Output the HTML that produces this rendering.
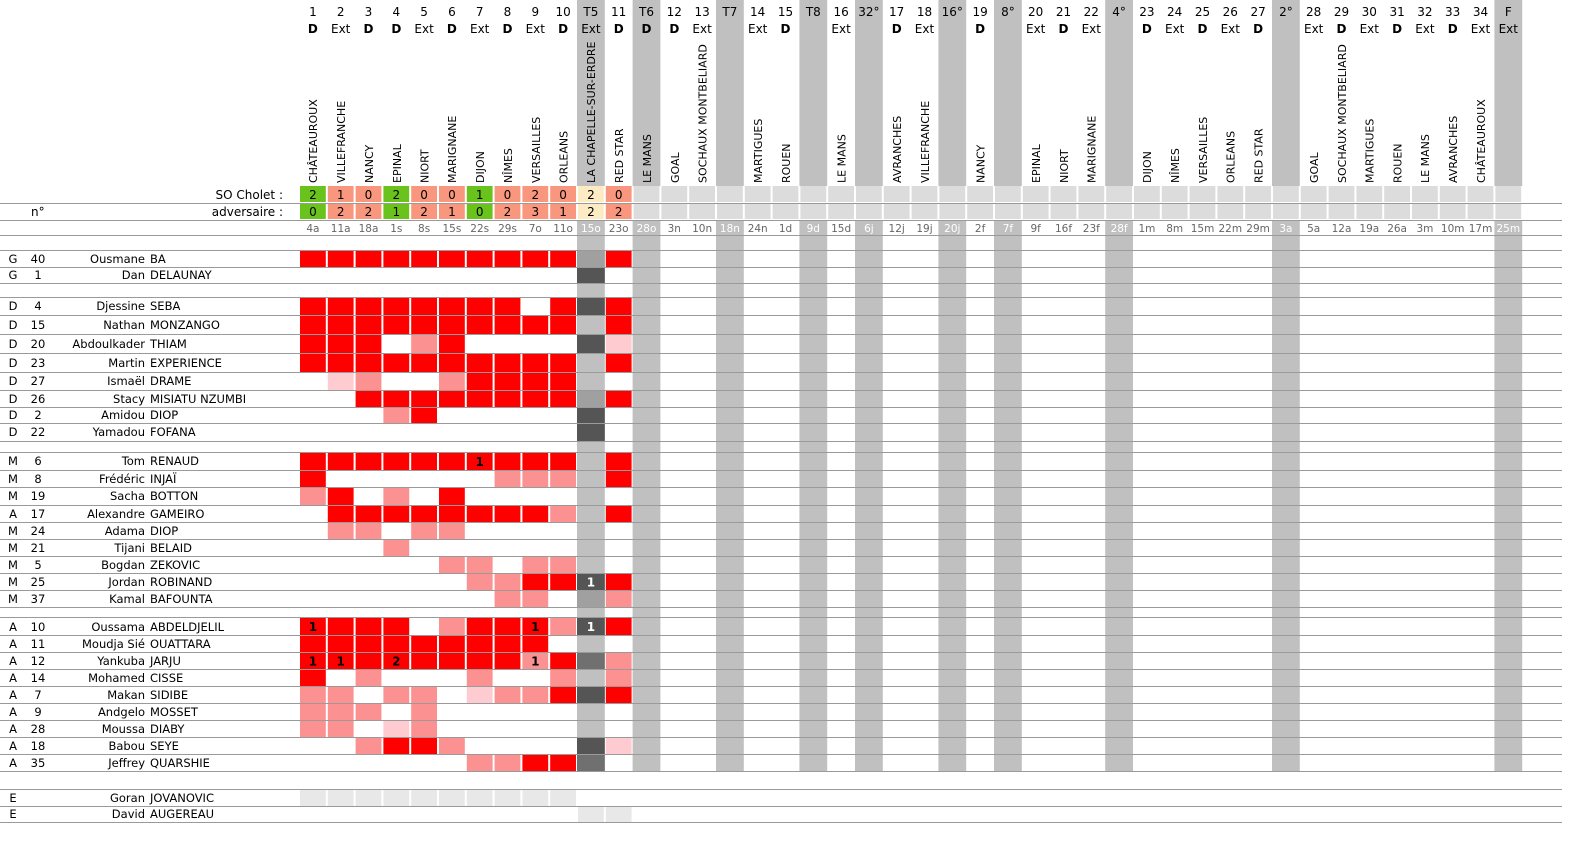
<!DOCTYPE html>
<html><head><meta charset="utf-8">
<style>
html,body{margin:0;padding:0;background:#fff;}
svg{display:block;font-family:"DejaVu Sans","Liberation Sans",sans-serif;}
.r{fill:#fe0000}.p{fill:#fb9191}.l{fill:#fdcbd0}.g{fill:#dcdcdc}.e{fill:#e8e8e8}
.w{fill:#6ac31c}.s{fill:#f8977e}.y{fill:#fdebc4}
.d1{fill:#a0a0a0}.d2{fill:#555}.d3{fill:#707070}
.gc{fill:#c0c0c0}
.nm{font-size:11.5px;fill:#000}
.hd{font-size:12px;fill:#000;text-anchor:middle}
.hb{font-size:12px;fill:#000;text-anchor:middle;font-weight:bold}
.tm{font-size:11px;fill:#000}
.dt{font-size:10.5px;fill:#666;text-anchor:middle}
.dw{font-size:10.5px;fill:#fff;text-anchor:middle}
.sc{font-size:12px;fill:#000;text-anchor:middle}
.gl{font-size:12px;font-weight:bold;fill:#000;text-anchor:middle}
.glw{font-size:12px;font-weight:bold;fill:#fff;text-anchor:middle}
.ln{stroke:#9a9a9a;stroke-width:1}
</style></head><body>
<svg width="1577" height="851" viewBox="0 0 1577 851" xmlns="http://www.w3.org/2000/svg">
<!-- gray columns -->
<g class="gc">
<rect x="577" y="0" width="27.8" height="771"/>
<rect x="632.6" y="0" width="27.8" height="771"/>
<rect x="716" y="0" width="27.8" height="771"/>
<rect x="799.4" y="0" width="27.8" height="771"/>
<rect x="855" y="0" width="27.8" height="771"/>
<rect x="938.4" y="0" width="27.8" height="771"/>
<rect x="994" y="0" width="27.8" height="771"/>
<rect x="1105.2" y="0" width="27.8" height="771"/>
<rect x="1272" y="0" width="27.8" height="771"/>
<rect x="1494.4" y="0" width="27.8" height="771"/>
</g>
<!-- header numbers -->
<g class="hd">
<text x="312.9" y="16">1</text><text x="340.7" y="16">2</text><text x="368.5" y="16">3</text><text x="396.3" y="16">4</text><text x="424.1" y="16">5</text><text x="451.9" y="16">6</text><text x="479.7" y="16">7</text><text x="507.5" y="16">8</text><text x="535.3" y="16">9</text><text x="563.1" y="16">10</text><text x="590.9" y="16">T5</text><text x="618.7" y="16">11</text><text x="646.5" y="16">T6</text><text x="674.3" y="16">12</text><text x="702.1" y="16">13</text><text x="729.9" y="16">T7</text><text x="757.7" y="16">14</text><text x="785.5" y="16">15</text><text x="813.3" y="16">T8</text><text x="841.1" y="16">16</text><text x="868.9" y="16">32°</text><text x="896.7" y="16">17</text><text x="924.5" y="16">18</text><text x="952.3" y="16">16°</text><text x="980.1" y="16">19</text><text x="1007.9" y="16">8°</text><text x="1035.7" y="16">20</text><text x="1063.5" y="16">21</text><text x="1091.3" y="16">22</text><text x="1119.1" y="16">4°</text><text x="1146.9" y="16">23</text><text x="1174.7" y="16">24</text><text x="1202.5" y="16">25</text><text x="1230.3" y="16">26</text><text x="1258.1" y="16">27</text><text x="1285.9" y="16">2°</text><text x="1313.7" y="16">28</text><text x="1341.5" y="16">29</text><text x="1369.3" y="16">30</text><text x="1397.1" y="16">31</text><text x="1424.9" y="16">32</text><text x="1452.7" y="16">33</text><text x="1480.5" y="16">34</text><text x="1508.3" y="16">F</text>
</g>
<g>
<text class="hb" x="312.9" y="33">D</text><text class="hd" x="340.7" y="33">Ext</text><text class="hb" x="368.5" y="33">D</text><text class="hb" x="396.3" y="33">D</text><text class="hd" x="424.1" y="33">Ext</text><text class="hb" x="451.9" y="33">D</text><text class="hd" x="479.7" y="33">Ext</text><text class="hb" x="507.5" y="33">D</text><text class="hd" x="535.3" y="33">Ext</text><text class="hb" x="563.1" y="33">D</text><text class="hd" x="590.9" y="33">Ext</text><text class="hb" x="618.7" y="33">D</text><text class="hb" x="646.5" y="33">D</text><text class="hb" x="674.3" y="33">D</text><text class="hd" x="702.1" y="33">Ext</text><text class="hd" x="757.7" y="33">Ext</text><text class="hb" x="785.5" y="33">D</text><text class="hd" x="841.1" y="33">Ext</text><text class="hb" x="896.7" y="33">D</text><text class="hd" x="924.5" y="33">Ext</text><text class="hb" x="980.1" y="33">D</text><text class="hd" x="1035.7" y="33">Ext</text><text class="hb" x="1063.5" y="33">D</text><text class="hd" x="1091.3" y="33">Ext</text><text class="hb" x="1146.9" y="33">D</text><text class="hd" x="1174.7" y="33">Ext</text><text class="hb" x="1202.5" y="33">D</text><text class="hd" x="1230.3" y="33">Ext</text><text class="hb" x="1258.1" y="33">D</text><text class="hd" x="1313.7" y="33">Ext</text><text class="hb" x="1341.5" y="33">D</text><text class="hd" x="1369.3" y="33">Ext</text><text class="hb" x="1397.1" y="33">D</text><text class="hd" x="1424.9" y="33">Ext</text><text class="hb" x="1452.7" y="33">D</text><text class="hd" x="1480.5" y="33">Ext</text><text class="hd" x="1508.3" y="33">Ext</text>
</g>
<!-- team names rotated -->
<g class="tm">
<text transform="translate(317,183) rotate(-90)">CHÂTEAUROUX</text>
<text transform="translate(345,183) rotate(-90)">VILLEFRANCHE</text>
<text transform="translate(373,183) rotate(-90)">NANCY</text>
<text transform="translate(401,183) rotate(-90)">EPINAL</text>
<text transform="translate(428.5,183) rotate(-90)">NIORT</text>
<text transform="translate(456,183) rotate(-90)">MARIGNANE</text>
<text transform="translate(484,183) rotate(-90)">DIJON</text>
<text transform="translate(512,183) rotate(-90)">NÎMES</text>
<text transform="translate(540,183) rotate(-90)">VERSAILLES</text>
<text transform="translate(567.5,183) rotate(-90)">ORLEANS</text>
<text transform="translate(595,183) rotate(-90)">LA CHAPELLE-SUR-ERDRE</text>
<text transform="translate(623,183) rotate(-90)">RED STAR</text>
<text transform="translate(651,183) rotate(-90)">LE MANS</text>
<text transform="translate(679,183) rotate(-90)">GOAL</text>
<text transform="translate(706.5,183) rotate(-90)">SOCHAUX MONTBELIARD</text>
<text transform="translate(762,183) rotate(-90)">MARTIGUES</text>
<text transform="translate(790,183) rotate(-90)">ROUEN</text>
<text transform="translate(845.5,183) rotate(-90)">LE MANS</text>
<text transform="translate(901,183) rotate(-90)">AVRANCHES</text>
<text transform="translate(929,183) rotate(-90)">VILLEFRANCHE</text>
<text transform="translate(984.5,183) rotate(-90)">NANCY</text>
<text transform="translate(1040,183) rotate(-90)">EPINAL</text>
<text transform="translate(1068,183) rotate(-90)">NIORT</text>
<text transform="translate(1095.5,183) rotate(-90)">MARIGNANE</text>
<text transform="translate(1151,183) rotate(-90)">DIJON</text>
<text transform="translate(1179,183) rotate(-90)">NÎMES</text>
<text transform="translate(1207,183) rotate(-90)">VERSAILLES</text>
<text transform="translate(1234.5,183) rotate(-90)">ORLEANS</text>
<text transform="translate(1262.5,183) rotate(-90)">RED STAR</text>
<text transform="translate(1318,183) rotate(-90)">GOAL</text>
<text transform="translate(1346,183) rotate(-90)">SOCHAUX MONTBELIARD</text>
<text transform="translate(1373.5,183) rotate(-90)">MARTIGUES</text>
<text transform="translate(1401.5,183) rotate(-90)">ROUEN</text>
<text transform="translate(1429,183) rotate(-90)">LE MANS</text>
<text transform="translate(1457,183) rotate(-90)">AVRANCHES</text>
<text transform="translate(1485,183) rotate(-90)">CHÂTEAUROUX</text>
</g>
<!-- score rows background -->
<rect x="299" y="186" width="1224" height="34" fill="#fff"/>
<g class="g">
<rect x="632.6" y="186" width="889.6" height="16" fill="#fff"/>
</g>
<g id="sc">
<!-- row 1 -->
<rect class="w" x="300" y="186" width="25.8" height="16"/><rect class="s" x="327.8" y="186" width="25.8" height="16"/><rect class="s" x="355.6" y="186" width="25.8" height="16"/><rect class="w" x="383.4" y="186" width="25.8" height="16"/><rect class="s" x="411.2" y="186" width="25.8" height="16"/><rect class="s" x="439" y="186" width="25.8" height="16"/><rect class="w" x="466.8" y="186" width="25.8" height="16"/><rect class="s" x="494.6" y="186" width="25.8" height="16"/><rect class="s" x="522.4" y="186" width="25.8" height="16"/><rect class="s" x="550.2" y="186" width="25.8" height="16"/><rect class="y" x="578" y="186" width="25.8" height="16"/><rect class="s" x="605.8" y="186" width="25.8" height="16"/>
<rect class="w" x="300" y="204" width="25.8" height="15"/><rect class="s" x="327.8" y="204" width="25.8" height="15"/><rect class="s" x="355.6" y="204" width="25.8" height="15"/><rect class="w" x="383.4" y="204" width="25.8" height="15"/><rect class="s" x="411.2" y="204" width="25.8" height="15"/><rect class="s" x="439" y="204" width="25.8" height="15"/><rect class="w" x="466.8" y="204" width="25.8" height="15"/><rect class="s" x="494.6" y="204" width="25.8" height="15"/><rect class="s" x="522.4" y="204" width="25.8" height="15"/><rect class="s" x="550.2" y="204" width="25.8" height="15"/><rect class="y" x="578" y="204" width="25.8" height="15"/><rect class="s" x="605.8" y="204" width="25.8" height="15"/>
</g>
<!-- remaining score cells light gray -->
<g class="g">
<rect x="633.6" y="186" width="25.8" height="16"/><rect x="661.4" y="186" width="25.8" height="16"/><rect x="689.2" y="186" width="25.8" height="16"/><rect x="717" y="186" width="25.8" height="16"/><rect x="744.8" y="186" width="25.8" height="16"/><rect x="772.6" y="186" width="25.8" height="16"/><rect x="800.4" y="186" width="25.8" height="16"/><rect x="828.2" y="186" width="25.8" height="16"/><rect x="856" y="186" width="25.8" height="16"/><rect x="883.8" y="186" width="25.8" height="16"/><rect x="911.6" y="186" width="25.8" height="16"/><rect x="939.4" y="186" width="25.8" height="16"/><rect x="967.2" y="186" width="25.8" height="16"/><rect x="995" y="186" width="25.8" height="16"/><rect x="1022.8" y="186" width="25.8" height="16"/><rect x="1050.6" y="186" width="25.8" height="16"/><rect x="1078.4" y="186" width="25.8" height="16"/><rect x="1106.2" y="186" width="25.8" height="16"/><rect x="1134" y="186" width="25.8" height="16"/><rect x="1161.8" y="186" width="25.8" height="16"/><rect x="1189.6" y="186" width="25.8" height="16"/><rect x="1217.4" y="186" width="25.8" height="16"/><rect x="1245.2" y="186" width="25.8" height="16"/><rect x="1273" y="186" width="25.8" height="16"/><rect x="1300.8" y="186" width="25.8" height="16"/><rect x="1328.6" y="186" width="25.8" height="16"/><rect x="1356.4" y="186" width="25.8" height="16"/><rect x="1384.2" y="186" width="25.8" height="16"/><rect x="1412" y="186" width="25.8" height="16"/><rect x="1439.8" y="186" width="25.8" height="16"/><rect x="1467.6" y="186" width="25.8" height="16"/><rect x="1495.4" y="186" width="25.8" height="16"/>
<rect x="633.6" y="204" width="25.8" height="15"/><rect x="661.4" y="204" width="25.8" height="15"/><rect x="689.2" y="204" width="25.8" height="15"/><rect x="717" y="204" width="25.8" height="15"/><rect x="744.8" y="204" width="25.8" height="15"/><rect x="772.6" y="204" width="25.8" height="15"/><rect x="800.4" y="204" width="25.8" height="15"/><rect x="828.2" y="204" width="25.8" height="15"/><rect x="856" y="204" width="25.8" height="15"/><rect x="883.8" y="204" width="25.8" height="15"/><rect x="911.6" y="204" width="25.8" height="15"/><rect x="939.4" y="204" width="25.8" height="15"/><rect x="967.2" y="204" width="25.8" height="15"/><rect x="995" y="204" width="25.8" height="15"/><rect x="1022.8" y="204" width="25.8" height="15"/><rect x="1050.6" y="204" width="25.8" height="15"/><rect x="1078.4" y="204" width="25.8" height="15"/><rect x="1106.2" y="204" width="25.8" height="15"/><rect x="1134" y="204" width="25.8" height="15"/><rect x="1161.8" y="204" width="25.8" height="15"/><rect x="1189.6" y="204" width="25.8" height="15"/><rect x="1217.4" y="204" width="25.8" height="15"/><rect x="1245.2" y="204" width="25.8" height="15"/><rect x="1273" y="204" width="25.8" height="15"/><rect x="1300.8" y="204" width="25.8" height="15"/><rect x="1328.6" y="204" width="25.8" height="15"/><rect x="1356.4" y="204" width="25.8" height="15"/><rect x="1384.2" y="204" width="25.8" height="15"/><rect x="1412" y="204" width="25.8" height="15"/><rect x="1439.8" y="204" width="25.8" height="15"/><rect x="1467.6" y="204" width="25.8" height="15"/><rect x="1495.4" y="204" width="25.8" height="15"/>
</g>
<g class="sc">
<text x="312.9" y="199">2</text><text x="340.7" y="199">1</text><text x="368.5" y="199">0</text><text x="396.3" y="199">2</text><text x="424.1" y="199">0</text><text x="451.9" y="199">0</text><text x="479.7" y="199">1</text><text x="507.5" y="199">0</text><text x="535.3" y="199">2</text><text x="563.1" y="199">0</text><text x="590.9" y="199">2</text><text x="618.7" y="199">0</text>
<text x="312.9" y="216">0</text><text x="340.7" y="216">2</text><text x="368.5" y="216">2</text><text x="396.3" y="216">1</text><text x="424.1" y="216">2</text><text x="451.9" y="216">1</text><text x="479.7" y="216">0</text><text x="507.5" y="216">2</text><text x="535.3" y="216">3</text><text x="563.1" y="216">1</text><text x="590.9" y="216">2</text><text x="618.7" y="216">2</text>
</g>
<text x="283" y="199" font-size="12" text-anchor="end">SO Cholet :</text>
<text x="283" y="216" font-size="12" text-anchor="end">adversaire :</text>
<text x="31" y="216" font-size="12">n°</text>
<!-- date row white background on non-gray columns -->
<g>
<text class="dt" x="312.9" y="232">4a</text><text class="dt" x="340.7" y="232">11a</text><text class="dt" x="368.5" y="232">18a</text><text class="dt" x="396.3" y="232">1s</text><text class="dt" x="424.1" y="232">8s</text><text class="dt" x="451.9" y="232">15s</text><text class="dt" x="479.7" y="232">22s</text><text class="dt" x="507.5" y="232">29s</text><text class="dt" x="535.3" y="232">7o</text><text class="dt" x="563.1" y="232">11o</text><text class="dw" x="590.9" y="232">15o</text><text class="dt" x="618.7" y="232">23o</text><text class="dw" x="646.5" y="232">28o</text><text class="dt" x="674.3" y="232">3n</text><text class="dt" x="702.1" y="232">10n</text><text class="dw" x="729.9" y="232">18n</text><text class="dt" x="757.7" y="232">24n</text><text class="dt" x="785.5" y="232">1d</text><text class="dw" x="813.3" y="232">9d</text><text class="dt" x="841.1" y="232">15d</text><text class="dw" x="868.9" y="232">6j</text><text class="dt" x="896.7" y="232">12j</text><text class="dt" x="924.5" y="232">19j</text><text class="dw" x="952.3" y="232">20j</text><text class="dt" x="980.1" y="232">2f</text><text class="dw" x="1007.9" y="232">7f</text><text class="dt" x="1035.7" y="232">9f</text><text class="dt" x="1063.5" y="232">16f</text><text class="dt" x="1091.3" y="232">23f</text><text class="dw" x="1119.1" y="232">28f</text><text class="dt" x="1146.9" y="232">1m</text><text class="dt" x="1174.7" y="232">8m</text><text class="dt" x="1202.5" y="232">15m</text><text class="dt" x="1230.3" y="232">22m</text><text class="dt" x="1258.1" y="232">29m</text><text class="dw" x="1285.9" y="232">3a</text><text class="dt" x="1313.7" y="232">5a</text><text class="dt" x="1341.5" y="232">12a</text><text class="dt" x="1369.3" y="232">19a</text><text class="dt" x="1397.1" y="232">26a</text><text class="dt" x="1424.9" y="232">3m</text><text class="dt" x="1452.7" y="232">10m</text><text class="dt" x="1480.5" y="232">17m</text><text class="dw" x="1508.3" y="232">25m</text>
</g>

<!-- body cells -->
<!-- G40 -->
<g transform="translate(0,251)"><rect class="r" x="300" width="25.8" height="16"/><rect class="r" x="327.8" width="25.8" height="16"/><rect class="r" x="355.6" width="25.8" height="16"/><rect class="r" x="383.4" width="25.8" height="16"/><rect class="r" x="411.2" width="25.8" height="16"/><rect class="r" x="439" width="25.8" height="16"/><rect class="r" x="466.8" width="25.8" height="16"/><rect class="r" x="494.6" width="25.8" height="16"/><rect class="r" x="522.4" width="25.8" height="16"/><rect class="r" x="550.2" width="25.8" height="16"/><rect class="d1" x="577" width="27.8" height="16"/><rect class="r" x="605.8" width="25.8" height="16"/></g>
<!-- G1 -->
<g transform="translate(0,268)"><rect class="d2" x="577" width="27.8" height="15"/></g>
<!-- D4 -->
<g transform="translate(0,298)"><rect class="r" x="300" width="25.8" height="17"/><rect class="r" x="327.8" width="25.8" height="17"/><rect class="r" x="355.6" width="25.8" height="17"/><rect class="r" x="383.4" width="25.8" height="17"/><rect class="r" x="411.2" width="25.8" height="17"/><rect class="r" x="439" width="25.8" height="17"/><rect class="r" x="466.8" width="25.8" height="17"/><rect class="r" x="494.6" width="25.8" height="17"/><rect class="r" x="550.2" width="25.8" height="17"/><rect class="d2" x="577" width="27.8" height="17"/><rect class="r" x="605.8" width="25.8" height="17"/></g>
<!-- D15 -->
<g transform="translate(0,316)"><rect class="r" x="300" width="25.8" height="18"/><rect class="r" x="327.8" width="25.8" height="18"/><rect class="r" x="355.6" width="25.8" height="18"/><rect class="r" x="383.4" width="25.8" height="18"/><rect class="r" x="411.2" width="25.8" height="18"/><rect class="r" x="439" width="25.8" height="18"/><rect class="r" x="466.8" width="25.8" height="18"/><rect class="r" x="494.6" width="25.8" height="18"/><rect class="r" x="522.4" width="25.8" height="18"/><rect class="r" x="550.2" width="25.8" height="18"/><rect class="r" x="605.8" width="25.8" height="18"/></g>
<!-- D20 -->
<g transform="translate(0,335)"><rect class="r" x="300" width="25.8" height="18"/><rect class="r" x="327.8" width="25.8" height="18"/><rect class="r" x="355.6" width="25.8" height="18"/><rect class="p" x="411.2" width="25.8" height="18"/><rect class="r" x="439" width="25.8" height="18"/><rect class="d2" x="577" width="27.8" height="18"/><rect class="l" x="605.8" width="25.8" height="18"/></g>
<!-- D23 -->
<g transform="translate(0,354)"><rect class="r" x="300" width="25.8" height="18"/><rect class="r" x="327.8" width="25.8" height="18"/><rect class="r" x="355.6" width="25.8" height="18"/><rect class="r" x="383.4" width="25.8" height="18"/><rect class="r" x="411.2" width="25.8" height="18"/><rect class="r" x="439" width="25.8" height="18"/><rect class="r" x="466.8" width="25.8" height="18"/><rect class="r" x="494.6" width="25.8" height="18"/><rect class="r" x="522.4" width="25.8" height="18"/><rect class="r" x="550.2" width="25.8" height="18"/><rect class="r" x="605.8" width="25.8" height="18"/></g>
<!-- D27 -->
<g transform="translate(0,373)"><rect class="l" x="327.8" width="25.8" height="17"/><rect class="p" x="355.6" width="25.8" height="17"/><rect class="p" x="439" width="25.8" height="17"/><rect class="r" x="466.8" width="25.8" height="17"/><rect class="r" x="494.6" width="25.8" height="17"/><rect class="r" x="522.4" width="25.8" height="17"/><rect class="r" x="550.2" width="25.8" height="17"/></g>
<!-- D26 -->
<g transform="translate(0,391)"><rect class="r" x="355.6" width="25.8" height="16"/><rect class="r" x="383.4" width="25.8" height="16"/><rect class="r" x="411.2" width="25.8" height="16"/><rect class="r" x="439" width="25.8" height="16"/><rect class="r" x="466.8" width="25.8" height="16"/><rect class="r" x="494.6" width="25.8" height="16"/><rect class="r" x="522.4" width="25.8" height="16"/><rect class="r" x="550.2" width="25.8" height="16"/><rect class="d1" x="577" width="27.8" height="16"/><rect class="r" x="605.8" width="25.8" height="16"/></g>
<!-- D2 -->
<g transform="translate(0,408)"><rect class="p" x="383.4" width="25.8" height="15"/><rect class="r" x="411.2" width="25.8" height="15"/><rect class="d2" x="577" width="27.8" height="15"/></g>
<!-- D22 -->
<g transform="translate(0,424)"><rect class="d2" x="577" width="27.8" height="17"/></g>
<!-- M6 -->
<g transform="translate(0,453)"><rect class="r" x="300" width="25.8" height="17"/><rect class="r" x="327.8" width="25.8" height="17"/><rect class="r" x="355.6" width="25.8" height="17"/><rect class="r" x="383.4" width="25.8" height="17"/><rect class="r" x="411.2" width="25.8" height="17"/><rect class="r" x="439" width="25.8" height="17"/><rect class="r" x="466.8" width="25.8" height="17"/><rect class="r" x="494.6" width="25.8" height="17"/><rect class="r" x="522.4" width="25.8" height="17"/><rect class="r" x="550.2" width="25.8" height="17"/><rect class="r" x="605.8" width="25.8" height="17"/><text class="gl" x="479.7" y="13">1</text></g>
<!-- M8 -->
<g transform="translate(0,471)"><rect class="r" x="300" width="25.8" height="16"/><rect class="p" x="494.6" width="25.8" height="16"/><rect class="p" x="522.4" width="25.8" height="16"/><rect class="p" x="550.2" width="25.8" height="16"/><rect class="r" x="605.8" width="25.8" height="16"/></g>
<!-- M19 -->
<g transform="translate(0,488)"><rect class="p" x="300" width="25.8" height="17"/><rect class="r" x="327.8" width="25.8" height="17"/><rect class="p" x="383.4" width="25.8" height="17"/><rect class="r" x="439" width="25.8" height="17"/></g>
<!-- A17 -->
<g transform="translate(0,506)"><rect class="r" x="327.8" width="25.8" height="16"/><rect class="r" x="355.6" width="25.8" height="16"/><rect class="r" x="383.4" width="25.8" height="16"/><rect class="r" x="411.2" width="25.8" height="16"/><rect class="r" x="439" width="25.8" height="16"/><rect class="r" x="466.8" width="25.8" height="16"/><rect class="r" x="494.6" width="25.8" height="16"/><rect class="r" x="522.4" width="25.8" height="16"/><rect class="p" x="550.2" width="25.8" height="16"/><rect class="r" x="605.8" width="25.8" height="16"/></g>
<!-- M24 -->
<g transform="translate(0,523)"><rect class="p" x="327.8" width="25.8" height="16"/><rect class="p" x="355.6" width="25.8" height="16"/><rect class="p" x="411.2" width="25.8" height="16"/><rect class="p" x="439" width="25.8" height="16"/></g>
<!-- M21 -->
<g transform="translate(0,540)"><rect class="p" x="383.4" width="25.8" height="16"/></g>
<!-- M5 -->
<g transform="translate(0,557)"><rect class="p" x="439" width="25.8" height="16"/><rect class="p" x="466.8" width="25.8" height="16"/><rect class="p" x="522.4" width="25.8" height="16"/><rect class="p" x="550.2" width="25.8" height="16"/></g>
<!-- M25 -->
<g transform="translate(0,574)"><rect class="p" x="466.8" width="25.8" height="16"/><rect class="p" x="494.6" width="25.8" height="16"/><rect class="r" x="522.4" width="25.8" height="16"/><rect class="r" x="550.2" width="25.8" height="16"/><rect class="d2" x="577" width="27.8" height="16"/><rect class="r" x="605.8" width="25.8" height="16"/><text class="glw" x="590.9" y="12.5">1</text></g>
<!-- M37 -->
<g transform="translate(0,591)"><rect class="p" x="494.6" width="25.8" height="16"/><rect class="p" x="522.4" width="25.8" height="16"/><rect class="d1" x="577" width="27.8" height="16"/><rect class="p" x="605.8" width="25.8" height="16"/></g>
<!-- A10 -->
<g transform="translate(0,618)"><rect class="r" x="300" width="25.8" height="17"/><rect class="r" x="327.8" width="25.8" height="17"/><rect class="r" x="355.6" width="25.8" height="17"/><rect class="r" x="383.4" width="25.8" height="17"/><rect class="p" x="439" width="25.8" height="17"/><rect class="r" x="466.8" width="25.8" height="17"/><rect class="r" x="494.6" width="25.8" height="17"/><rect class="r" x="522.4" width="25.8" height="17"/><rect class="p" x="550.2" width="25.8" height="17"/><rect class="d2" x="577" width="27.8" height="17"/><rect class="r" x="605.8" width="25.8" height="17"/><text class="gl" x="312.9" y="13">1</text><text class="gl" x="535.3" y="13">1</text><text class="glw" x="590.9" y="13">1</text></g>
<!-- A11 -->
<g transform="translate(0,636)"><rect class="r" x="300" width="25.8" height="16"/><rect class="r" x="327.8" width="25.8" height="16"/><rect class="r" x="355.6" width="25.8" height="16"/><rect class="r" x="383.4" width="25.8" height="16"/><rect class="r" x="411.2" width="25.8" height="16"/><rect class="r" x="439" width="25.8" height="16"/><rect class="r" x="466.8" width="25.8" height="16"/><rect class="r" x="494.6" width="25.8" height="16"/><rect class="r" x="522.4" width="25.8" height="16"/></g>
<!-- A12 -->
<g transform="translate(0,653)"><rect class="r" x="300" width="25.8" height="16"/><rect class="r" x="327.8" width="25.8" height="16"/><rect class="r" x="355.6" width="25.8" height="16"/><rect class="r" x="383.4" width="25.8" height="16"/><rect class="r" x="411.2" width="25.8" height="16"/><rect class="r" x="439" width="25.8" height="16"/><rect class="r" x="466.8" width="25.8" height="16"/><rect class="r" x="494.6" width="25.8" height="16"/><rect class="p" x="522.4" width="25.8" height="16"/><rect class="r" x="550.2" width="25.8" height="16"/><rect class="d3" x="577" width="27.8" height="16"/><rect class="p" x="605.8" width="25.8" height="16"/><text class="gl" x="312.9" y="12.5">1</text><text class="gl" x="340.7" y="12.5">1</text><text class="gl" x="396.3" y="12.5">2</text><text class="gl" x="535.3" y="12.5">1</text></g>
<!-- A14 -->
<g transform="translate(0,670)"><rect class="r" x="300" width="25.8" height="16"/><rect class="p" x="355.6" width="25.8" height="16"/><rect class="p" x="466.8" width="25.8" height="16"/><rect class="p" x="550.2" width="25.8" height="16"/><rect class="p" x="605.8" width="25.8" height="16"/></g>
<!-- A7 -->
<g transform="translate(0,687)"><rect class="p" x="300" width="25.8" height="16"/><rect class="p" x="327.8" width="25.8" height="16"/><rect class="p" x="383.4" width="25.8" height="16"/><rect class="p" x="411.2" width="25.8" height="16"/><rect class="l" x="466.8" width="25.8" height="16"/><rect class="p" x="494.6" width="25.8" height="16"/><rect class="p" x="522.4" width="25.8" height="16"/><rect class="r" x="550.2" width="25.8" height="16"/><rect class="d2" x="577" width="27.8" height="16"/><rect class="r" x="605.8" width="25.8" height="16"/></g>
<!-- A9 -->
<g transform="translate(0,704)"><rect class="p" x="300" width="25.8" height="16"/><rect class="p" x="327.8" width="25.8" height="16"/><rect class="p" x="355.6" width="25.8" height="16"/><rect class="p" x="411.2" width="25.8" height="16"/></g>
<!-- A28 -->
<g transform="translate(0,721)"><rect class="p" x="300" width="25.8" height="16"/><rect class="p" x="327.8" width="25.8" height="16"/><rect class="l" x="383.4" width="25.8" height="16"/><rect class="p" x="411.2" width="25.8" height="16"/></g>
<!-- A18 -->
<g transform="translate(0,738)"><rect class="p" x="355.6" width="25.8" height="16"/><rect class="r" x="383.4" width="25.8" height="16"/><rect class="r" x="411.2" width="25.8" height="16"/><rect class="p" x="439" width="25.8" height="16"/><rect class="d2" x="577" width="27.8" height="16"/><rect class="l" x="605.8" width="25.8" height="16"/></g>
<!-- A35 -->
<g transform="translate(0,755)"><rect class="p" x="466.8" width="25.8" height="16"/><rect class="p" x="494.6" width="25.8" height="16"/><rect class="r" x="522.4" width="25.8" height="16"/><rect class="r" x="550.2" width="25.8" height="16"/><rect class="d3" x="577" width="27.8" height="16"/></g>
<!-- Goran -->
<g transform="translate(0,790)" class="e"><rect x="300" width="25.8" height="16"/><rect x="327.8" width="25.8" height="16"/><rect x="355.6" width="25.8" height="16"/><rect x="383.4" width="25.8" height="16"/><rect x="411.2" width="25.8" height="16"/><rect x="439" width="25.8" height="16"/><rect x="466.8" width="25.8" height="16"/><rect x="494.6" width="25.8" height="16"/><rect x="522.4" width="25.8" height="16"/><rect x="550.2" width="25.8" height="16"/></g>
<!-- David -->
<g transform="translate(0,807)" class="e"><rect x="578" width="25.8" height="15"/><rect x="605.8" width="25.8" height="15"/></g>

<!-- horizontal lines -->
<g class="ln">
<line x1="0" x2="1562" y1="203.5" y2="203.5"/><line x1="0" x2="1562" y1="220.5" y2="220.5"/><line x1="0" x2="1562" y1="235.5" y2="235.5"/><line x1="0" x2="1562" y1="250.5" y2="250.5"/><line x1="0" x2="1562" y1="267.5" y2="267.5"/><line x1="0" x2="1562" y1="283.5" y2="283.5"/><line x1="0" x2="1562" y1="297.5" y2="297.5"/><line x1="0" x2="1562" y1="315.5" y2="315.5"/><line x1="0" x2="1562" y1="334.5" y2="334.5"/><line x1="0" x2="1562" y1="353.5" y2="353.5"/><line x1="0" x2="1562" y1="372.5" y2="372.5"/><line x1="0" x2="1562" y1="390.5" y2="390.5"/><line x1="0" x2="1562" y1="407.5" y2="407.5"/><line x1="0" x2="1562" y1="423.5" y2="423.5"/><line x1="0" x2="1562" y1="441.5" y2="441.5"/><line x1="0" x2="1562" y1="452.5" y2="452.5"/><line x1="0" x2="1562" y1="470.5" y2="470.5"/><line x1="0" x2="1562" y1="487.5" y2="487.5"/><line x1="0" x2="1562" y1="505.5" y2="505.5"/><line x1="0" x2="1562" y1="522.5" y2="522.5"/><line x1="0" x2="1562" y1="539.5" y2="539.5"/><line x1="0" x2="1562" y1="556.5" y2="556.5"/><line x1="0" x2="1562" y1="573.5" y2="573.5"/><line x1="0" x2="1562" y1="590.5" y2="590.5"/><line x1="0" x2="1562" y1="607.5" y2="607.5"/><line x1="0" x2="1562" y1="617.5" y2="617.5"/><line x1="0" x2="1562" y1="635.5" y2="635.5"/><line x1="0" x2="1562" y1="652.5" y2="652.5"/><line x1="0" x2="1562" y1="669.5" y2="669.5"/><line x1="0" x2="1562" y1="686.5" y2="686.5"/><line x1="0" x2="1562" y1="703.5" y2="703.5"/><line x1="0" x2="1562" y1="720.5" y2="720.5"/><line x1="0" x2="1562" y1="737.5" y2="737.5"/><line x1="0" x2="1562" y1="754.5" y2="754.5"/><line x1="0" x2="1562" y1="771.5" y2="771.5"/><line x1="0" x2="1562" y1="789.5" y2="789.5"/><line x1="0" x2="1562" y1="806.5" y2="806.5"/><line x1="0" x2="1562" y1="822.5" y2="822.5"/>
</g>

<!-- player labels -->
<g class="nm">
<text x="13" y="263" text-anchor="middle">G</text><text x="38" y="263" text-anchor="middle">40</text><text x="145" y="263" text-anchor="end">Ousmane</text><text x="150" y="263">BA</text>
<text x="13" y="279" text-anchor="middle">G</text><text x="38" y="279" text-anchor="middle">1</text><text x="145" y="279" text-anchor="end">Dan</text><text x="150" y="279">DELAUNAY</text>
<text x="13" y="310" text-anchor="middle">D</text><text x="38" y="310" text-anchor="middle">4</text><text x="145" y="310" text-anchor="end">Djessine</text><text x="150" y="310">SEBA</text>
<text x="13" y="329" text-anchor="middle">D</text><text x="38" y="329" text-anchor="middle">15</text><text x="145" y="329" text-anchor="end">Nathan</text><text x="150" y="329">MONZANGO</text>
<text x="13" y="348" text-anchor="middle">D</text><text x="38" y="348" text-anchor="middle">20</text><text x="145" y="348" text-anchor="end">Abdoulkader</text><text x="150" y="348">THIAM</text>
<text x="13" y="367" text-anchor="middle">D</text><text x="38" y="367" text-anchor="middle">23</text><text x="145" y="367" text-anchor="end">Martin</text><text x="150" y="367">EXPERIENCE</text>
<text x="13" y="385" text-anchor="middle">D</text><text x="38" y="385" text-anchor="middle">27</text><text x="145" y="385" text-anchor="end">Ismaël</text><text x="150" y="385">DRAME</text>
<text x="13" y="403" text-anchor="middle">D</text><text x="38" y="403" text-anchor="middle">26</text><text x="145" y="403" text-anchor="end">Stacy</text><text x="150" y="403">MISIATU NZUMBI</text>
<text x="13" y="419" text-anchor="middle">D</text><text x="38" y="419" text-anchor="middle">2</text><text x="145" y="419" text-anchor="end">Amidou</text><text x="150" y="419">DIOP</text>
<text x="13" y="436" text-anchor="middle">D</text><text x="38" y="436" text-anchor="middle">22</text><text x="145" y="436" text-anchor="end">Yamadou</text><text x="150" y="436">FOFANA</text>
<text x="13" y="465" text-anchor="middle">M</text><text x="38" y="465" text-anchor="middle">6</text><text x="145" y="465" text-anchor="end">Tom</text><text x="150" y="465">RENAUD</text>
<text x="13" y="483" text-anchor="middle">M</text><text x="38" y="483" text-anchor="middle">8</text><text x="145" y="483" text-anchor="end">Frédéric</text><text x="150" y="483">INJAÏ</text>
<text x="13" y="500" text-anchor="middle">M</text><text x="38" y="500" text-anchor="middle">19</text><text x="145" y="500" text-anchor="end">Sacha</text><text x="150" y="500">BOTTON</text>
<text x="13" y="518" text-anchor="middle">A</text><text x="38" y="518" text-anchor="middle">17</text><text x="145" y="518" text-anchor="end">Alexandre</text><text x="150" y="518">GAMEIRO</text>
<text x="13" y="535" text-anchor="middle">M</text><text x="38" y="535" text-anchor="middle">24</text><text x="145" y="535" text-anchor="end">Adama</text><text x="150" y="535">DIOP</text>
<text x="13" y="552" text-anchor="middle">M</text><text x="38" y="552" text-anchor="middle">21</text><text x="145" y="552" text-anchor="end">Tijani</text><text x="150" y="552">BELAID</text>
<text x="13" y="569" text-anchor="middle">M</text><text x="38" y="569" text-anchor="middle">5</text><text x="145" y="569" text-anchor="end">Bogdan</text><text x="150" y="569">ZEKOVIC</text>
<text x="13" y="586" text-anchor="middle">M</text><text x="38" y="586" text-anchor="middle">25</text><text x="145" y="586" text-anchor="end">Jordan</text><text x="150" y="586">ROBINAND</text>
<text x="13" y="603" text-anchor="middle">M</text><text x="38" y="603" text-anchor="middle">37</text><text x="145" y="603" text-anchor="end">Kamal</text><text x="150" y="603">BAFOUNTA</text>
<text x="13" y="631" text-anchor="middle">A</text><text x="38" y="631" text-anchor="middle">10</text><text x="145" y="631" text-anchor="end">Oussama</text><text x="150" y="631">ABDELDJELIL</text>
<text x="13" y="648" text-anchor="middle">A</text><text x="38" y="648" text-anchor="middle">11</text><text x="145" y="648" text-anchor="end">Moudja Sié</text><text x="150" y="648">OUATTARA</text>
<text x="13" y="665" text-anchor="middle">A</text><text x="38" y="665" text-anchor="middle">12</text><text x="145" y="665" text-anchor="end">Yankuba</text><text x="150" y="665">JARJU</text>
<text x="13" y="682" text-anchor="middle">A</text><text x="38" y="682" text-anchor="middle">14</text><text x="145" y="682" text-anchor="end">Mohamed</text><text x="150" y="682">CISSE</text>
<text x="13" y="699" text-anchor="middle">A</text><text x="38" y="699" text-anchor="middle">7</text><text x="145" y="699" text-anchor="end">Makan</text><text x="150" y="699">SIDIBE</text>
<text x="13" y="716" text-anchor="middle">A</text><text x="38" y="716" text-anchor="middle">9</text><text x="145" y="716" text-anchor="end">Andgelo</text><text x="150" y="716">MOSSET</text>
<text x="13" y="733" text-anchor="middle">A</text><text x="38" y="733" text-anchor="middle">28</text><text x="145" y="733" text-anchor="end">Moussa</text><text x="150" y="733">DIABY</text>
<text x="13" y="750" text-anchor="middle">A</text><text x="38" y="750" text-anchor="middle">18</text><text x="145" y="750" text-anchor="end">Babou</text><text x="150" y="750">SEYE</text>
<text x="13" y="767" text-anchor="middle">A</text><text x="38" y="767" text-anchor="middle">35</text><text x="145" y="767" text-anchor="end">Jeffrey</text><text x="150" y="767">QUARSHIE</text>
<text x="13" y="802" text-anchor="middle">E</text><text x="145" y="802" text-anchor="end">Goran</text><text x="150" y="802">JOVANOVIC</text>
<text x="13" y="818" text-anchor="middle">E</text><text x="145" y="818" text-anchor="end">David</text><text x="150" y="818">AUGEREAU</text>
</g>
</svg>
</body></html>
